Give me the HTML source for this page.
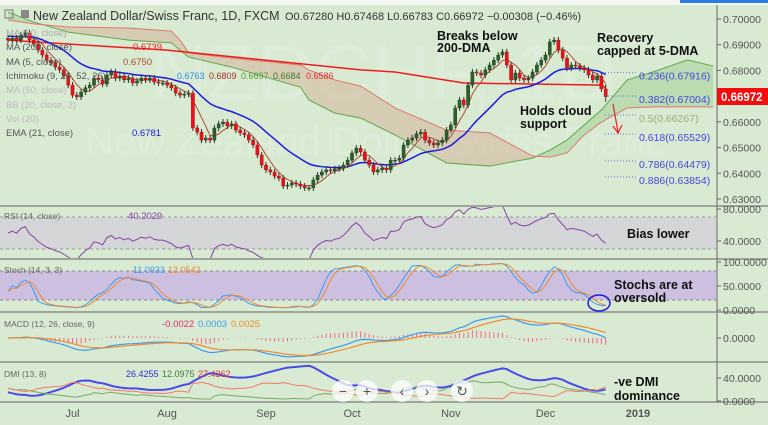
<!DOCTYPE html>
<html><head><meta charset="utf-8"><style>
html,body{margin:0;padding:0;width:768px;height:425px;overflow:hidden;background:#d9ead3;font-family:"Liberation Sans",sans-serif}
svg{position:absolute;left:0;top:0}
</style></head><body>
<svg id="c" width="768" height="425" viewBox="0 0 768 425"></svg>
<script>
const closes=[0.6918,0.6926,0.6918,0.6938,0.6946,0.6918,0.6903,0.6879,0.6860,0.6840,
0.6829,0.6813,0.6802,0.6778,0.6743,0.6704,0.6697,0.6716,0.6732,0.6743,
0.6770,0.6763,0.6747,0.6782,0.6794,0.6770,0.6778,0.6763,0.6770,0.6751,
0.6759,0.6770,0.6763,0.6770,0.6755,0.6751,0.6751,0.6743,0.6732,0.6712,
0.6704,0.6708,0.6712,0.6576,0.6560,0.6529,0.6537,0.6529,0.6576,0.6592,
0.6599,0.6584,0.6592,0.6568,0.6557,0.6549,0.6529,0.6510,0.6471,0.6432,
0.6413,0.6405,0.6389,0.6381,0.6350,0.6354,0.6362,0.6358,0.6350,0.6343,
0.6343,0.6374,0.6393,0.6405,0.6413,0.6409,0.6417,0.6420,0.6432,0.6451,
0.6479,0.6498,0.6483,0.6451,0.6432,0.6405,0.6413,0.6420,0.6413,0.6451,
0.6451,0.6459,0.6510,0.6529,0.6537,0.6553,0.6560,0.6529,0.6518,0.6510,
0.6518,0.6529,0.6568,0.6588,0.6654,0.6685,0.6665,0.6743,0.6794,0.6790,
0.6782,0.6802,0.6821,0.6840,0.6860,0.6872,0.6821,0.6763,0.6790,0.6770,
0.6763,0.6770,0.6794,0.6821,0.6840,0.6860,0.6911,0.6918,0.6879,0.6848,
0.6809,0.6821,0.6817,0.6809,0.6802,0.6782,0.6763,0.6778,0.6728,0.66972];
const firstOpen=0.6925;
const lastHigh=0.67468, lastLow=0.66783;
const cloudIdx=[0,6,14,28,38,40,42,52,68,70,76,82,90,102,112,122,126,130,134,138,144,150,158,164];
const spanA=[0.7027,0.6988,0.6949,0.6918,0.6907,0.6879,0.6852,0.6813,0.6735,0.6685,0.6634,0.6615,0.6549,0.6440,0.6428,0.6459,0.6490,0.6529,0.6588,0.6646,0.6763,0.6794,0.6841,0.6817];
const spanB=[0.6996,0.6981,0.6969,0.6965,0.6953,0.6918,0.6868,0.6848,0.6821,0.6802,0.6763,0.6739,0.6654,0.6568,0.6557,0.6467,0.6463,0.6479,0.6549,0.6599,0.6654,0.6658,0.6658,0.6658];
const ma200Idx=[0,6,37,82,90,106,122,138,139];
const ma200Val=[0.6918,0.6911,0.6879,0.6802,0.6794,0.6751,0.6747,0.6743,0.6732];
const priceTicks=[0.70,0.69,0.68,0.67,0.66,0.65,0.64,0.63];
const fibLevels=[0.67916,0.67004,0.66267,0.65529,0.64479,0.63854];
const fibNames=["0.236","0.382","0.5","0.618","0.786","0.886"];
const monthLabels=["Jul","Aug","Sep","Oct","Nov","Dec","2019"];
const monthIdx=[15,37,60,80,103,125,146.5];

const NS="http://www.w3.org/2000/svg";
const svg=document.getElementById('c');
function el(tag,attrs,parent){const e=document.createElementNS(NS,tag);for(const k in attrs)e.setAttribute(k,attrs[k]);(parent||svg).appendChild(e);return e;}
function txt(s,x,y,size,fill,parent,extra){const t=el('text',Object.assign({x:x,y:y,'font-size':size,fill:fill,'font-family':'"Liberation Sans",sans-serif'},extra||{}),parent);t.textContent=s;return t;}
const xAt=i=>8+4.3*i;
const yP=p=>19+(0.70-p)*2571;

const defs=el('defs',{});
function clip(id,y0,y1){const c=el('clipPath',{id:id},defs);el('rect',{x:0,y:y0,width:716,height:y1-y0},c);}
clip('cm',5,205);clip('cr',207,258);clip('cs',260,311);clip('cmac',313,361);clip('cd',363,401);

el('rect',{x:0,y:0,width:768,height:5,fill:'#f4f6f4'});
el('rect',{x:680,y:0,width:88,height:3,fill:'#2a7de1'});

const wm=el('g',{});

txt('NZDCHF, 1D',150,100,80,'rgba(255,255,255,0.15)',wm);
txt('New Zealand Dollar/Swiss Franc',85,155,40,'rgba(255,255,255,0.15)',wm);

const gm=el('g',{'clip-path':'url(#cm)'});
const cloud=el('g',{},gm);


for(let k=0;k<cloudIdx.length-1;k++){
  const xa=xAt(cloudIdx[k]),xb=xAt(cloudIdx[k+1]);
  const up=(spanA[k]+spanA[k+1])>(spanB[k]+spanB[k+1]);
  el('polygon',{points:`${xa},${yP(spanA[k])} ${xb},${yP(spanA[k+1])} ${xb},${yP(spanB[k+1])} ${xa},${yP(spanB[k])}`,fill:up?'rgba(110,180,90,0.28)':'rgba(205,150,120,0.35)'},cloud);
}
const pA=cloudIdx.map((v,k)=>xAt(v)+','+yP(spanA[k])).join(' ');
const pB=cloudIdx.map((v,k)=>xAt(v)+','+yP(spanB[k])).join(' ');
const la=el('polyline',{points:pA,fill:'none',stroke:'#5fa84a','stroke-width':1},gm);


const lb=el('polyline',{points:pB,fill:'none',stroke:'#e0786a','stroke-width':1},gm);


const m200=el('polyline',{points:ma200Idx.map((v,k)=>xAt(v)+','+yP(ma200Val[k])).join(' '),fill:'none',stroke:'#ee1c1c','stroke-width':1.5},gm);


let e=0.6935;const ema21=closes.map(c=>(e=e+(c-e)*2/22));
const emaL=el('polyline',{points:ema21.map((v,i)=>xAt(i)+','+yP(v)).join(' '),fill:'none',stroke:'#1b1bdd','stroke-width':1.5},gm);


const ma5=closes.map((c,i)=>{const s=closes.slice(Math.max(0,i-4),i+1);return s.reduce((a,b)=>a+b,0)/s.length;});
const m5=el('polyline',{points:ma5.map((v,i)=>xAt(i)+','+yP(v)).join(' '),fill:'none',stroke:'#b04a35','stroke-width':1},gm);


const opens=closes.map((c,i)=>i===0?firstOpen:closes[i-1]);
const highs=closes.map((c,i)=>i===closes.length-1?lastHigh:Math.max(c,opens[i])+0.0012);
const lows=closes.map((c,i)=>i===closes.length-1?lastLow:Math.min(c,opens[i])-0.0012);
const cg=el('g',{},gm);


closes.forEach((c,i)=>{
  const x=xAt(i),o=opens[i],up=c>=o;
  el('line',{x1:x,x2:x,y1:yP(highs[i]),y2:yP(lows[i]),stroke:'#2b3a2b','stroke-width':1},cg);
  const t=Math.min(yP(o),yP(c)),h=Math.max(1,Math.abs(yP(o)-yP(c)));
  const b=el('rect',{x:x-1.6,y:t,width:3.2,height:h,fill:up?'#2d5f2d':'#e8131b',stroke:up?'#1f3f1f':'#a01010','stroke-width':0.4},cg);
  
  
});
const fg=el('g',{});


fibLevels.forEach((p,k)=>{
  el('line',{x1:605,x2:636,y1:yP(p),y2:yP(p),stroke:'#6a6ae8','stroke-width':1,'stroke-dasharray':'1,2'},fg);
  const t=txt(fibNames[k]+'('+p.toFixed(5)+')',639,yP(p)+7,10.5,k===2?'#93b07f':'#4646e0',fg);
  
  
});
el('line',{x1:613,y1:104,x2:618,y2:132,stroke:'#e52020','stroke-width':1.2});
el('polyline',{points:'613,126 618,133 622,125',fill:'none',stroke:'#e52020','stroke-width':1.2});

[206,259,312,362,402].forEach(y=>el('line',{x1:0,x2:768,y1:y,y2:y,stroke:'#8a8f8a','stroke-width':1.5}));
el('line',{x1:717,x2:717,y1:5,y2:402,stroke:'#666','stroke-width':1});

// RSI
el('rect',{x:0,y:217,width:716,height:32,fill:'#d3d5d6'});
el('line',{x1:0,x2:716,y1:217,y2:217,stroke:'#999','stroke-dasharray':'3,3'});
el('line',{x1:0,x2:716,y1:249,y2:249,stroke:'#999','stroke-dasharray':'3,3'});
let ag=0.0006,al=0.0006;const rsi=closes.map((c,i)=>{if(i>0){const d=c-closes[i-1];ag=(ag*13+Math.max(d,0))/14;al=(al*13+Math.max(-d,0))/14;}return 100-100/(1+ag/al);});
const rl=el('polyline',{points:rsi.map((v,i)=>xAt(i)+','+(241-(v-40)*0.8)).join(' '),fill:'none',stroke:'#8a3fa8','stroke-width':1,'clip-path':'url(#cr)'});



// Stoch
el('rect',{x:0,y:271,width:716,height:29,fill:'#cdbfe0'});
el('line',{x1:0,x2:716,y1:271,y2:271,stroke:'#888','stroke-dasharray':'3,3'});
el('line',{x1:0,x2:716,y1:300,y2:300,stroke:'#888','stroke-dasharray':'3,3'});
const raw=closes.map((c,i)=>{let hh=-1,ll=9;for(let j=Math.max(0,i-13);j<=i;j++){hh=Math.max(hh,highs[j]);ll=Math.min(ll,lows[j]);}return (c-ll)/(hh-ll)*100;});
const sma3=a=>a.map((v,i)=>{const s=a.slice(Math.max(0,i-2),i+1);return s.reduce((x,y)=>x+y,0)/s.length;});
const kS=sma3(raw),dS=sma3(kS);
const ys=v=>310-v*0.48;
const kl=el('polyline',{points:kS.map((v,i)=>xAt(i)+','+ys(v)).join(' '),fill:'none',stroke:'#3d9bf0','stroke-width':1,'clip-path':'url(#cs)'});


const dl=el('polyline',{points:dS.map((v,i)=>xAt(i)+','+ys(v)).join(' '),fill:'none',stroke:'#f08a30','stroke-width':1,'clip-path':'url(#cs)'});


el('ellipse',{cx:599,cy:303,rx:11,ry:8,fill:'none',stroke:'#1a1ae0','stroke-width':1.5});

// MACD
let e12=closes[0],e26=closes[0];const macd=closes.map(c=>{e12+=(c-e12)*2/13;e26+=(c-e26)*2/27;return e12-e26;});
let sg=0;const sig=macd.map(m=>(sg+=(m-sg)*0.2));
const mx=Math.max(...macd.map(Math.abs),...sig.map(Math.abs));
const ym=v=>338-v*(22/mx);
const hg=el('g',{'clip-path':'url(#cmac)'});


macd.forEach((m,i)=>{const h=(m-sig[i])*1.3;el('line',{x1:xAt(i),x2:xAt(i),y1:338,y2:ym(h),stroke:'#f06a90','stroke-width':1},hg);});
const ml=el('polyline',{points:macd.map((v,i)=>xAt(i)+','+ym(v)).join(' '),fill:'none',stroke:'#3d9bf0','stroke-width':1.2,'clip-path':'url(#cmac)'});


const sl=el('polyline',{points:sig.map((v,i)=>xAt(i)+','+ym(v)).join(' '),fill:'none',stroke:'#f08a30','stroke-width':1.2,'clip-path':'url(#cmac)'});



// DMI
let tr=0.004,pdm=0.001,mdm=0.001,adx=20;const pdi=[],mdi=[],adxA=[];
closes.forEach((c,i)=>{if(i>0){const up=highs[i]-highs[i-1],dn=lows[i-1]-lows[i];const t=Math.max(highs[i]-lows[i],Math.abs(highs[i]-closes[i-1]),Math.abs(lows[i]-closes[i-1]));tr=(tr*12+t)/13;pdm=(pdm*12+(up>dn&&up>0?up:0))/13;mdm=(mdm*12+(dn>up&&dn>0?dn:0))/13;}
const p=100*pdm/tr,m=100*mdm/tr;pdi.push(p);mdi.push(m);const dx=100*Math.abs(p-m)/Math.max(p+m,0.001);adx=(adx*7+dx)/8;adxA.push(adx);});
const yd=v=>401-v*0.5;
[[adxA,'#4a4ae8',2,'dmi-adx-line'],[pdi,'#7aa86a',1,'dmi-plus-line'],[mdi,'#f07a6a',1,'dmi-minus-line']].forEach(s=>{
  const l=el('polyline',{points:s[0].map((v,i)=>xAt(i)+','+yd(v)).join(' '),fill:'none',stroke:s[1],'stroke-width':s[2],'clip-path':'url(#cd)'});
  
  
});

[343,367,402,427,462].forEach((x,k)=>{const g=el('g',{});
el('circle',{cx:x,cy:391,r:11,fill:'rgba(255,255,255,0.75)'},g);txt(['−','+','‹','›','↻'][k],x,396,14,'#555',g,{'text-anchor':'middle'});});

const ax=el('g',{});


priceTicks.forEach(p=>{el('line',{x1:717,x2:721,y1:yP(p),y2:yP(p),stroke:'#666'},ax);txt(p.toFixed(5),723,yP(p)+4,10.5,'#555',ax);});
[['80.0000',209],['40.0000',241],['100.0000',262],['50.0000',286],['0.0000',310],['0.0000',338],['40.0000',378],['0.0000',401]].forEach(a=>{el('line',{x1:717,x2:721,y1:a[1],y2:a[1],stroke:'#666'},ax);txt(a[0],723,a[1]+4,10.5,'#555',ax);});
const pl=el('g',{});


el('rect',{x:717,y:88,width:51,height:17,fill:'#f50d0d'},pl);
txt('0.66972',721,101,11.5,'#fff',pl,{'font-weight':'bold'});

monthLabels.forEach((m,k)=>{const t=txt(m,xAt(monthIdx[k]),417,11,'#555',null,{'text-anchor':'middle','font-weight':k===6?'bold':'normal'});});

const lg=el('g',{});


el('rect',{x:5,y:10,width:8,height:8,fill:'none',stroke:'#777'},lg);
el('rect',{x:21,y:10,width:8,height:8,fill:'#888'},lg);
txt('New Zealand Dollar/Swiss Franc, 1D, FXCM',33,20,12.5,'#333',lg);
txt('O0.67280  H0.67468  L0.66783  C0.66972  −0.00308 (−0.46%)',285,20,11,'#333',lg,{'xml:space':'preserve'});
const rows=[['MA (50, close)',36,'#aaa',''],['MA (200, close)',50,'#555','0.6739','#ee1c1c',133],['MA (5, close)',65,'#555','0.6750','#b04a35',123],['Ichimoku (9, 26, 52, 26)',79,'#555','',''],['MA (50, close)',93,'#bbb',''],['BB (20, close, 2)',108,'#bbb',''],['Vol (20)',122,'#bbb',''],['EMA (21, close)',136,'#555','0.6781','#2020dd',132]];
rows.forEach(r=>{txt(r[0],6,r[1],9.5,r[2],lg);if(r[3])txt(r[3],r[5],r[1],9.5,r[4],lg);});
[['0.6763','#2a8ae0',177],['0.6809','#a03020',209],['0.6697','#5a9a3a',241],['0.6684','#3a7a2a',273],['0.6586','#e03030',306]].forEach(v=>txt(v[0],v[2],79,9,v[1],lg));
txt('RSI (14, close)',4,219,8.5,'#666',lg);txt('40.2029',128,219,9.5,'#8a3fa8',lg);
txt('Stoch (14, 3, 3)',4,273,8.5,'#666',lg);txt('11.0933',133,273,9,'#3d9bf0',lg);txt('12.0542',168,273,9,'#f08a30',lg);
txt('MACD (12, 26, close, 9)',4,327,8.5,'#666',lg);txt('-0.0022',162,327,9.5,'#e0306a',lg);txt('0.0003',198,327,9.5,'#3d9bf0',lg);txt('0.0025',231,327,9.5,'#f08a30',lg);
txt('DMI (13, 8)',4,377,8.5,'#666',lg);txt('26.4255',126,377,9,'#3030d0',lg);txt('12.0975',162,377,9,'#4a7a3a',lg);txt('27.4362',198,377,9,'#e03030',lg);

const an=el('g',{'font-weight':'bold'});


[['Breaks below',437,40],['200-DMA',437,52],['Recovery',597,42],['capped at 5-DMA',597,55],['Holds cloud',520,115],['support',520,128],['Bias lower',627,238],['Stochs are at',614,289],['oversold',614,302],['-ve DMI',614,386],['dominance',614,400]].forEach(a=>txt(a[0],a[1],a[2],12.5,'#111',an,{'font-weight':'bold'}));
</script>
</body></html>
